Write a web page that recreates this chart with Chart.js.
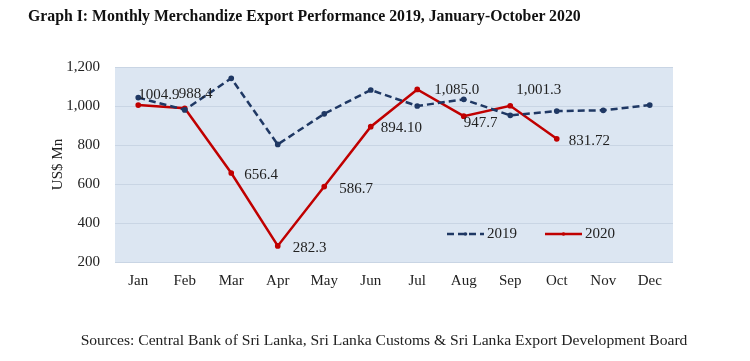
<!DOCTYPE html>
<html>
<head>
<meta charset="utf-8">
<script src="https://cdn.jsdelivr.net/npm/chart.js@4.4.0/dist/chart.umd.min.js"></script>
<style>
  html, body { margin: 0; padding: 0; background: #fff; }
  #wrap { position: relative; width: 750px; height: 361px; }
  #title { position: absolute; left: 28px; top: 7px; font: bold 15.8px "Liberation Serif", serif; color: #111; white-space: nowrap; }
  #source { position: absolute; left: 0; width: 768px; text-align: center; top: 331px; font: 15.6px "Liberation Serif", serif; color: #222; white-space: nowrap; }
  canvas { position: absolute; left: 0; top: 0; }
</style>
</head>
<body>
<div id="wrap">
  <canvas id="chart" width="750" height="361"></canvas>
  <div id="title">Graph I: Monthly Merchandize Export Performance 2019, January-October 2020</div>
  <div id="source">Sources: Central Bank of Sri Lanka, Sri Lanka Customs &amp; Sri Lanka Export Development Board</div>
</div>
<script>
const months = ['Jan', 'Feb', 'Mar', 'Apr', 'May', 'Jun', 'Jul', 'Aug', 'Sep', 'Oct', 'Nov', 'Dec'];
const exports2019 = [1043, 980, 1142, 803, 960, 1082, 1000, 1034, 952, 974, 978, 1005];
const exports2020 = [1004.9, 988.4, 656.4, 282.3, 586.7, 894.1, 1085.0, 947.7, 1001.3, 831.72];
// labels shown beside the 2020 points, as printed in the source graph
const labels2020 = ['1004.9', '988.4', '656.4', '282.3', '586.7', '894.10', '1,085.0', '947.7', '1,001.3', '831.72'];
const labelOffsets = [[0, -10], [-6, -14], [13, 2], [15, 2], [15, 2], [10, 1], [17, 1], [0, 7], [6, -16], [12, 2]];
const yTicks = [200, 400, 600, 800, 1000, 1200];

const serif = '"Liberation Serif", "Times New Roman", serif';

// fondo azul claro del área de trazado
const plotBg = {
    id: 'plotBg',
    beforeDraw(chart) {
        const { ctx, chartArea: a } = chart;
        ctx.save();
        ctx.fillStyle = '#dce6f2';
        ctx.fillRect(a.left, a.top, a.right - a.left, a.bottom - a.top);
        ctx.restore();
    }
};

// etiquetas de valor para 2020
const valueLabels = {
    id: 'valueLabels',
    afterDatasetsDraw(chart) {
        const { ctx } = chart;
        const meta = chart.getDatasetMeta(1);
        ctx.save();
        ctx.font = '15px ' + serif;
        ctx.fillStyle = '#222';
        ctx.textAlign = 'left';
        ctx.textBaseline = 'middle';
        meta.data.forEach((pt, i) => {
            const [dx, dy] = labelOffsets[i];
            ctx.fillText(labels2020[i], pt.x + dx, pt.y + dy);
        });
        ctx.restore();
    }
};

// leyenda dentro del área de trazado
const innerLegend = {
    id: 'innerLegend',
    afterDatasetsDraw(chart) {
        const { ctx, chartArea: a } = chart;
        const y = a.bottom - 28;
        const items = [
            { x: a.left + 332, ds: chart.data.datasets[0] },
            { x: a.left + 430, ds: chart.data.datasets[1] }
        ];
        ctx.save();
        items.forEach(it => {
            ctx.strokeStyle = it.ds.borderColor;
            ctx.lineWidth = 2.5;
            ctx.setLineDash(it.ds.borderDash || []);
            ctx.beginPath();
            ctx.moveTo(it.x, y);
            ctx.lineTo(it.x + 37, y);
            ctx.stroke();
            ctx.setLineDash([]);
            ctx.fillStyle = it.ds.borderColor;
            ctx.beginPath();
            ctx.arc(it.x + 18.5, y, 1.8, 0, Math.PI * 2);
            ctx.fill();
            ctx.fillStyle = '#222';
            ctx.font = '15px ' + serif;
            ctx.textBaseline = 'middle';
            ctx.fillText(it.ds.label, it.x + 40, y);
        });
        ctx.restore();
    }
};

new Chart(document.getElementById('chart'), {
    type: 'line',
    data: {
        labels: months,
        datasets: [
            {
                label: '2019',
                data: exports2019,
                borderColor: '#1f3864',
                backgroundColor: '#1f3864',
                borderWidth: 2.5,
                borderDash: [7, 4],
                pointRadius: 1.6,
                pointStyle: 'circle',
                tension: 0
            },
            {
                label: '2020',
                data: exports2020,
                borderColor: '#c00000',
                backgroundColor: '#c00000',
                borderWidth: 2.5,
                pointRadius: 1.6,
                tension: 0
            }
        ]
    },
    options: {
        responsive: false,
        animation: false,
        layout: { padding: { left: 45, top: 67, right: 77, bottom: 70 } },
        plugins: {
            legend: { display: false },
            tooltip: { enabled: false }
        },
        scales: {
            x: {
                offset: true,
                grid: { display: false, drawTicks: false },
                border: { display: false },
                ticks: { color: '#222', font: { family: serif, size: 15 }, padding: 10, maxRotation: 0 },
                afterFit: (s) => { s.height = 29; }
            },
            y: {
                min: 200,
                max: 1200,
                afterBuildTicks: (s) => { s.ticks = yTicks.map(v => ({ value: v })); },
                grid: { color: '#c9d5e4', lineWidth: 1, drawTicks: false },
                border: { display: false },
                ticks: {
                    color: '#222',
                    font: { family: serif, size: 15 },
                    padding: 15,
                    callback: (v) => v.toLocaleString('en-US')
                },
                title: { display: true, text: 'US$ Mn', color: '#222', font: { family: serif, size: 15 }, padding: 4 },
                afterFit: (s) => { s.width = 70; }
            }
        }
    },
    plugins: [plotBg, valueLabels, innerLegend]
});
</script>
</body>
</html>
